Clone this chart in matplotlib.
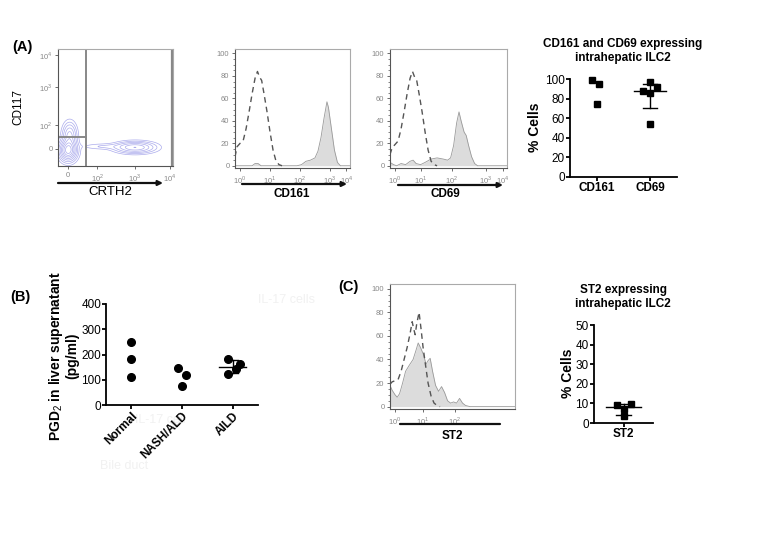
import numpy as np
import matplotlib
matplotlib.use("Agg")
import matplotlib.pyplot as plt
import matplotlib.patches as mpatches

plt.rcParams['font.family'] = ['Liberation Sans', 'DejaVu Sans']
plt.rcParams['mathtext.fontset'] = 'custom'
plt.rcParams['mathtext.rm'] = 'Liberation Sans'

W, H = 763, 541

# ---- data ----
# flow plot populations (CRTH2 / CD117), in display-decade units
pop_x = [0.0, 0.05, 1.2, 2.3]
pop_y = [-0.05, 0.45, 0.08, 0.05]
pop_sx = [0.17, 0.14, 0.45, 0.4]
pop_sy = [0.2, 0.25, 0.06, 0.11]
pop_w = [1.0, 0.45, 0.1, 0.55]

# histograms: (decade, % of max)
cd161_iso_x = [-0.17, -0.1, 0.0, 0.1, 0.2, 0.3, 0.4, 0.5, 0.58, 0.65, 0.72, 0.8, 0.9, 1.0, 1.1, 1.2, 1.3, 1.4]
cd161_iso_y = [8, 17, 20, 22, 33, 48, 64, 78, 84, 79, 76, 64, 48, 30, 14, 4, 1, 0]
cd161_x = [-0.17, 0.4, 0.5, 0.6, 0.7, 1.9, 2.05, 2.2, 2.35, 2.5, 2.6, 2.7, 2.8, 2.9, 2.95, 3.05, 3.15, 3.25, 3.35, 3.67]
cd161_y = [0, 0, 2, 2, 0, 0, 1, 4, 5, 7, 13, 25, 42, 57, 52, 33, 14, 3, 0, 0]

cd69_iso_x = [-0.17, -0.1, 0.0, 0.1, 0.2, 0.3, 0.4, 0.5, 0.58, 0.65, 0.72, 0.8, 0.9, 1.0, 1.1, 1.2, 1.3, 1.4]
cd69_iso_y = [10, 16, 19, 22, 33, 48, 64, 78, 84, 79, 76, 64, 48, 30, 14, 4, 1, 0]
cd69_x = [-0.17, -0.05, 0.05, 0.2, 0.35, 0.5, 0.6, 0.7, 0.85, 1.0, 1.2, 1.4, 1.6, 1.75, 1.85, 1.95, 2.05, 2.13, 2.2, 2.3, 2.37, 2.45, 2.55, 2.65, 2.75, 3.73]
cd69_y = [3, 1, 0, 2, 1, 4, 5, 2, 1, 3, 6, 7, 6, 5, 7, 18, 38, 48, 40, 30, 27, 18, 8, 2, 0, 0]

st2_iso_x = [-0.17, -0.1, 0.1, 0.2, 0.3, 0.4, 0.5, 0.57, 0.62, 0.67, 0.72, 0.8, 0.87, 0.93, 1.0, 1.1, 1.2, 1.3, 1.4, 1.5]
st2_iso_y = [19, 21, 23, 30, 40, 50, 62, 72, 66, 61, 70, 80, 65, 51, 38, 20, 9, 3, 1, 0]
st2_x = [-0.17, -0.1, 0.0, 0.07, 0.15, 0.25, 0.35, 0.47, 0.6, 0.7, 0.77, 0.85, 0.95, 1.03, 1.1, 1.17, 1.25, 1.35, 1.45, 1.55, 1.65, 1.75, 1.85, 1.95, 2.05, 2.15, 2.25, 2.35, 2.5, 4.0]
st2_y = [18, 14, 10, 8, 11, 20, 30, 35, 40, 48, 54, 50, 44, 36, 39, 41, 30, 18, 13, 17, 12, 5, 3, 4, 3, 7, 3, 1, 0, 0]

# dot plot A
a_cats = ["CD161", "CD69"]
a_vals = [[98.5, 95, 74], [97.3, 92.2, 87.7, 86, 53.9]]
a_jit = [[-0.08, 0.05, 0.0], [0.0, 0.12, -0.14, 0.0, 0.0]]

# dot plot B
b_cats = ["Normal", "NASH/ALD", "AILD"]
b_vals = [[248, 181, 109], [148, 118, 75], [183, 162, 142, 123]]
b_jit = [[0, 0, 0], [-0.08, 0.08, 0.0], [-0.09, 0.15, 0.06, -0.09]]

# dot plot C
c_cats = ["ST2"]
c_vals = [[9.0, 9.7, 7.1, 3.4]]
c_jit = [[-0.11, 0.13, 0.0, 0.0]]


def rect(l, t, r, b):
    return [l / W, 1 - b / H, (r - l) / W, (b - t) / H]


def fx(x):
    return x / W


def fy(y):
    return 1 - y / H


fig = plt.figure(figsize=(W / 100, H / 100), dpi=100)

# faint ghost text in the background
for s, x, y in [("IL-17 cells", 258, 300), ("Bile duct", 106, 357), ("IL-17 cell", 135, 420), ("Bile duct", 100, 466)]:
    fig.text(fx(x), fy(y), s, fontsize=9, color='#f1f1f1', ha='left', va='center', zorder=-5)


def flow_axes(ax, xt, xl, yt=None, yl=None):
    for sp in ax.spines.values():
        sp.set_color('#aaaaaa')
        sp.set_linewidth(0.8)
    ax.spines['left'].set_color('#555555')
    ax.spines['bottom'].set_color('#555555')
    ax.set_xticks(xt)
    ax.set_xticklabels(xl, fontsize=5.5, color='#888888')
    ax.tick_params(axis='both', length=2.5, width=0.6, color='#555555', pad=1.5)
    if yt is not None:
        ax.set_yticks(yt)
        ax.set_yticklabels(yl, fontsize=5.5, color='#888888')


# ---- contour plot ----
axc = fig.add_axes(rect(58, 49, 173, 166))
gx, gy = np.meshgrid(np.linspace(-0.35, 3.6, 240), np.linspace(-0.57, 3.33, 240))
dens = np.zeros_like(gx)
for cx, cy, sx, sy, w in zip(pop_x, pop_y, pop_sx, pop_sy, pop_w):
    dens += w * np.exp(-((gx - cx) ** 2 / (2 * sx ** 2) + (gy - cy) ** 2 / (2 * sy ** 2)))
lv = dens.max() * np.array([0.04, 0.09, 0.16, 0.26, 0.38, 0.52, 0.68, 0.85])
axc.contour(gx, gy, dens, levels=lv, colors='#8f8fe6', linewidths=0.5, alpha=0.75)
axc.set_xlim(-0.35, 3.6)
axc.set_ylim(-0.57, 3.33)
flow_axes(axc, [0, 1.0, 2.3, 3.5], ["0", r"$10^2$", r"$10^3$", r"$10^4$"],
          [0, 0.8, 2.07, 3.13], ["0", r"$10^2$", r"$10^3$", r"$10^4$"])
axc.axvline(0.62, color='#888888', lw=1.4)
axc.plot([-0.35, 0.62], [0.4, 0.4], color='#888888', lw=1.4)
axc.axvline(3.57, color='#888888', lw=1.6)
fig.text(fx(18), fy(107), "CD117", rotation=90, fontsize=8.5, ha='center', va='center')
fig.text(fx(110), fy(192), "CRTH2", fontsize=9.5, ha='center', va='center')


def hist_axes(rc, xlim, xt, iso_x, iso_y, fx_, fy_):
    ax = fig.add_axes(rc)
    ax.fill_between(fx_, fy_, 0, color='#dcdcdc', lw=0)
    ax.plot(fx_, fy_, color='#999999', lw=0.6)
    ax.plot(iso_x, iso_y, color='#555555', lw=1.0, ls=(0, (4, 3)))
    ax.set_xlim(*xlim)
    ax.set_ylim(-2, 104)
    labs = [r"$10^%d$" % i for i in range(len(xt))]
    flow_axes(ax, xt, labs, [0, 20, 40, 60, 80, 100], ["0", "20", "40", "60", "80", "100"])
    ax.set_yticks(np.arange(0, 101, 5), minor=True)
    ax.tick_params(axis='y', which='minor', length=1.5, width=0.5, color='#555555')
    return ax


hist_axes(rect(235, 49, 350, 168), (-0.17, 3.67), [0, 1, 2, 3, 3.55],
          cd161_iso_x, cd161_iso_y, cd161_x, cd161_y)
hist_axes(rect(390, 49, 507, 168), (-0.17, 3.73), [0, 0.85, 1.9, 3.03, 3.6],
          cd69_iso_x, cd69_iso_y, cd69_x, cd69_y)
hist_axes(rect(390, 284, 515, 409), (-0.17, 4.0), [0, 0.93, 2.0],
          st2_iso_x, st2_iso_y, st2_x, st2_y)


def arrow(x1, x2, y, head=True):
    fig.add_artist(mpatches.FancyArrowPatch((fx(x1), fy(y)), (fx(x2), fy(y)), transform=fig.transFigure,
                                            arrowstyle='-|>' if head else '-', mutation_scale=7,
                                            lw=1.6, color='#111111', shrinkA=0, shrinkB=0))


arrow(58, 163, 183)
arrow(242, 347, 184)
arrow(398, 503, 185)
arrow(400, 500, 424, head=False)
fig.text(fx(292), fy(194), "CD161", fontsize=8.5, fontweight='bold', ha='center', va='center')
fig.text(fx(445), fy(194), "CD69", fontsize=8.5, fontweight='bold', ha='center', va='center')
fig.text(fx(452), fy(436), "ST2", fontsize=8.5, fontweight='bold', ha='center', va='center')


def dot_axes(rc, cats, vals, jit, marker, ylim, yt, bars, half=0.29, cap=0.12, ms=5):
    ax = fig.add_axes(rc)
    for i, (v, j) in enumerate(zip(vals, jit)):
        ax.plot([i + d for d in j], v, ls='none', marker=marker, color='k', ms=ms, clip_on=False)
        if bars[i]:
            med = np.median(v)
            q1, q3 = np.percentile(v, [25, 75], method='weibull')
            ax.plot([i - half, i + half], [med, med], color='k', lw=1)
            ax.plot([i, i], [q1, q3], color='k', lw=1)
            ax.plot([i - cap, i + cap], [q1, q1], color='k', lw=1)
            ax.plot([i - cap, i + cap], [q3, q3], color='k', lw=1)
    ax.set_xlim(-0.5, len(cats) - 0.5)
    ax.set_ylim(*ylim)
    ax.set_yticks(yt)
    ax.set_xticks(range(len(cats)))
    ax.spines['top'].set_visible(False)
    ax.spines['right'].set_visible(False)
    ax.spines['left'].set_linewidth(1.3)
    ax.spines['bottom'].set_linewidth(1.3)
    ax.tick_params(axis='both', length=3, width=1.3, labelsize=8.5, pad=0.8)
    ax.set_xticklabels(cats, fontweight='bold', fontsize=8.5)
    return ax


# panel A dot plot
dot_axes(rect(570, 79, 677, 177), a_cats, a_vals, a_jit, 's', (0, 100), range(0, 101, 20),
         [False, True], half=0.3, cap=0.13)
fig.text(fx(623), fy(51), "CD161 and CD69 expressing\nintrahepatic ILC2", fontsize=8.5,
         fontweight='bold', ha='center', va='center', linespacing=1.3)
fig.text(fx(535), fy(127), "% Cells", rotation=90, fontsize=10, fontweight='bold', ha='center', va='center')

# panel B
axb = dot_axes(rect(106, 304, 258, 405), b_cats, b_vals, b_jit, 'o', (0, 400), range(0, 401, 100),
               [False, False, True], half=0.26, cap=0.1, ms=5.5)
axb.tick_params(axis='y', pad=0.3)
plt.setp(axb.get_xticklabels(), rotation=45, ha='right', rotation_mode='anchor')
fig.text(fx(63), fy(356), "PGD$_2$ in liver supernatant\n(pg/ml)", rotation=90, fontsize=10,
         fontweight='bold', ha='center', va='center', linespacing=1.0)

# panel C dot plot
dot_axes(rect(594, 325, 653, 423), c_cats, c_vals, c_jit, 's', (0, 50), range(0, 51, 10),
         [True], half=0.29, cap=0.12)
fig.text(fx(623), fy(297), "ST2 expressing\nintrahepatic ILC2", fontsize=8.5,
         fontweight='bold', ha='center', va='center', linespacing=1.3)
fig.text(fx(568), fy(373), "% Cells", rotation=90, fontsize=10, fontweight='bold', ha='center', va='center')

# panel letters
fig.text(fx(12), fy(47), "(A)", fontsize=10.5, fontweight='bold', ha='left', va='center')
fig.text(fx(10), fy(297), "(B)", fontsize=10.5, fontweight='bold', ha='left', va='center')
fig.text(fx(338), fy(287), "(C)", fontsize=10.5, fontweight='bold', ha='left', va='center')

fig.savefig("out.png", dpi=100)
